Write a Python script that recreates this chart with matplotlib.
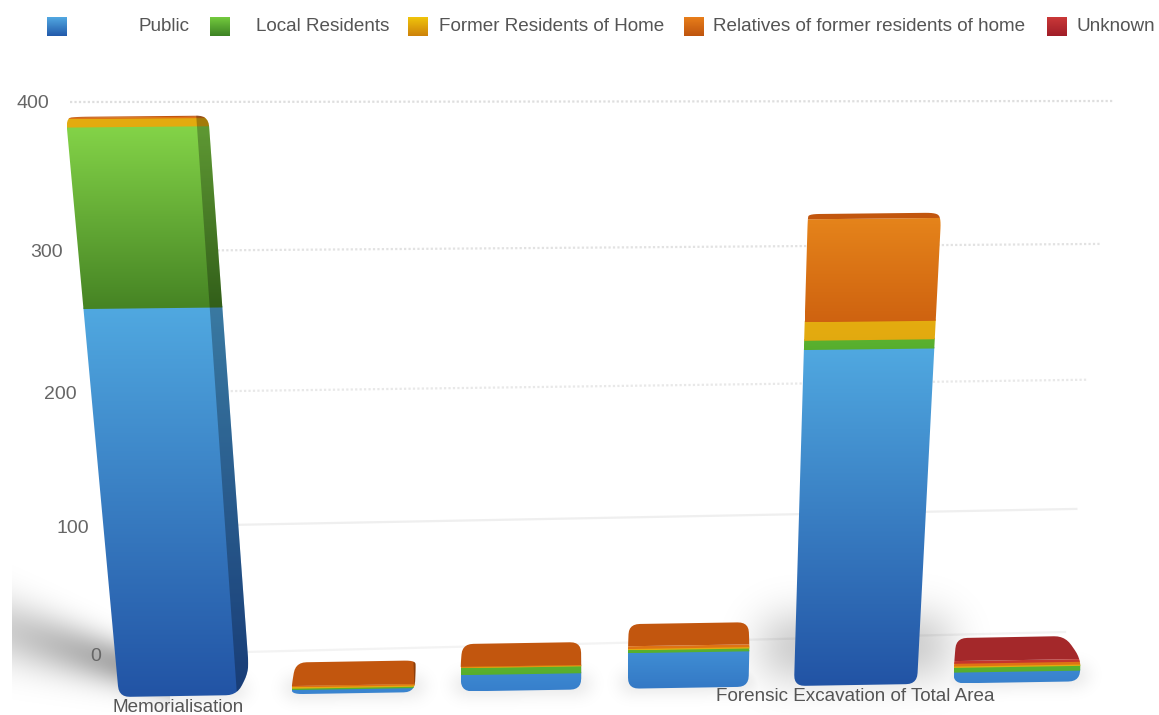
import numpy as np
import matplotlib
matplotlib.use('Agg')
import matplotlib.pyplot as plt
from matplotlib.patches import Polygon
from matplotlib.path import Path

plt.rcParams['font.family'] = ['Liberation Sans', 'DejaVu Sans']

categories = ['Memorialisation', '', '', '', 'Forensic Excavation of Total Area', '']
series_names = ['Public', 'Local Residents', 'Former Residents of Home',
                'Relatives of former residents of home', 'Unknown']
public = [259, 3, 12, 26, 227, 8]
local_residents = [123, 1, 5, 2, 6, 3.5]
former_residents = [6, 1, 0.5, 1, 12, 1]
relatives = [1, 1, 0.5, 2, 68, 2]
unknown = [0, 0, 0, 0, 0, 2]
y_ticks = [0, 100, 200, 300, 400]

W, H = 1159, 715

# light, middle and dark shade of each series, plus the shade of its top face
shades = [
    ((80, 168, 224), (58, 133, 208), (34, 84, 165), (50, 110, 180)),
    ((132, 212, 72), (88, 176, 46), (70, 132, 36), (70, 140, 40)),
    ((230, 178, 16), (228, 172, 16), (215, 150, 12), (200, 130, 10)),
    ((232, 140, 30), (224, 116, 20), (198, 90, 14), (194, 86, 14)),
    ((204, 58, 50), (198, 54, 46), (170, 36, 40), (164, 40, 42)),
]
legend_shades = [
    ((82, 168, 226), (34, 90, 170)),
    ((116, 202, 62), (60, 130, 36)),
    ((240, 196, 10), (205, 130, 10)),
    ((232, 126, 26), (190, 84, 14)),
    ((202, 56, 56), (160, 30, 40)),
]
legend_swatch_x = [47, 210, 408, 684, 1047]
legend_text_x = [138, 256, 439, 713, 1076]

# bar layout: slot centres, half widths, sideways shift of each back edge in pixels
slots = [0, 1.025, 2.01, 2.995, 3.985, 4.94]
half_widths = [0.344, 0.359, 0.353, 0.356, 0.365, 0.376]
back_left = [12, 4, 2, 1, 1, 2]
back_right = [12, 1, 0, -1, -5, -16]


def homography(src, dst):
    rows, rhs = [], []
    for (u, v), (x, y) in zip(src, dst):
        rows.append([u, v, 1, 0, 0, 0, -u * x, -v * x])
        rows.append([0, 0, 0, u, v, 1, -u * y, -v * y])
        rhs += [x, y]
    h = np.linalg.solve(np.array(rows, float), np.array(rhs, float))
    return np.append(h, 1).reshape(3, 3)


def apply_h(m, u, v):
    x, y, w = m @ np.array([u, v, 1.0])
    return np.array([x / w, y / w])


# the plane holding the bar fronts and the plane holding the gridlines
FRONT = homography(
    [(-0.344, 0), (-0.344, 389), (4.35, 0), (4.35, 321.5)],
    [(119, 697), (66, 118), (917, 684), (941, 218)])
GRID = homography(
    [(0, 0), (0, 400), (1, 0), (1, 400)],
    [(122, 655), (70, 102), (1065, 632), (1114, 101)])


def front(u, v):
    # the front plane is stretched a little through the middle of the value range
    return apply_h(FRONT, u, v + 1.147e-6 * v ** 2 * (389 - v))


def grid(t, v):
    return apply_h(GRID, t, v)


def back(u, v, shift):
    depth = 24 * max(1 - v / 400, 0.05)
    return front(u, v) + np.array([shift, -depth])


def hull(points):
    pts = sorted(map(tuple, points))

    def half(seq):
        out = []
        for p in seq:
            while len(out) > 1:
                a, b = np.array(out[-2]), np.array(out[-1])
                d1, d2 = b - a, np.array(p) - b
                if d1[0] * d2[1] - d1[1] * d2[0] <= 0:
                    out.pop()
                else:
                    break
            out.append(p)
        return out[:-1]
    return np.array(half(pts) + half(pts[::-1]))


def rounded(poly, radius):
    out = []
    n = len(poly)
    for k in range(n):
        prev, cur, nxt = poly[k - 1], poly[k], poly[(k + 1) % n]
        to_prev, to_next = prev - cur, nxt - cur
        len_prev, len_next = np.hypot(*to_prev), np.hypot(*to_next)
        a = cur + to_prev / len_prev * min(radius, 0.45 * len_prev)
        b = cur + to_next / len_next * min(radius, 0.45 * len_next)
        for t in np.linspace(0, 1, 7):
            out.append((1 - t) ** 2 * a + 2 * t * (1 - t) * cur + t ** 2 * b)
    return np.array(out)


def clip(poly, p, q, keep):
    """Cut a polygon along the line p-q, keeping the side that holds keep."""
    d = q - p

    def side(a):
        return d[0] * (a[1] - p[1]) - d[1] * (a[0] - p[0])
    sign = np.sign(side(keep))
    out = []
    for k in range(len(poly)):
        a, b = poly[k - 1], poly[k]
        sa, sb = side(a) * sign, side(b) * sign
        if sa >= 0:
            out.append(a)
        if sa * sb < 0:
            out.append(a + (b - a) * sa / (sa - sb))
    return np.array(out)


def fill_gradient(ax, poly, top, bottom, zorder):
    if len(poly) < 3:
        return
    ramp = np.linspace(0, 1, 64)[:, None, None]
    rgb = (np.array(top) * (1 - ramp) + np.array(bottom) * ramp) / 255
    x0, y0 = poly.min(axis=0)
    x1, y1 = poly.max(axis=0)
    im = ax.imshow(rgb, extent=(x0, x1, y1, y0), aspect='auto',
                   interpolation='bilinear', zorder=zorder)
    im.set_clip_path(Polygon(poly, transform=ax.transData))


def blurred(mask, sigma):
    radius = int(3 * sigma)
    kernel = np.exp(-0.5 * (np.arange(-radius, radius + 1) / sigma) ** 2)
    kernel /= kernel.sum()
    mask = np.apply_along_axis(np.convolve, 0, mask, kernel, 'same')
    return np.apply_along_axis(np.convolve, 1, mask, kernel, 'same')


def draw_shadows(ax, shapes):
    xx, yy = np.meshgrid(np.arange(W) + 0.5, np.arange(H) + 0.5)
    pts = np.column_stack([xx.ravel(), yy.ravel()])
    alpha = np.zeros((H, W))
    for poly, sigma, strength in shapes:
        inside = Path(poly).contains_points(pts).reshape(H, W).astype(float)
        alpha = np.maximum(alpha, blurred(inside, sigma) * strength)
    # long wedge of shadow thrown to the left of the tallest bar
    centre = 632 + (xx - 12) * 0.3
    spread = 34 - (xx - 12) * 0.1
    wedge = (0.2 + 0.14 * (xx - 12) / 100) * np.exp(-((yy - centre) / spread) ** 2)
    wedge[xx > 170] = 0
    alpha = np.maximum(alpha, wedge)
    alpha[:, :12] = 0
    rgba = np.zeros((H, W, 4))
    rgba[..., 3] = alpha
    ax.imshow(rgba, extent=(0, W, H, 0), aspect='auto', zorder=2)


def draw_bar(ax, i, values):
    stack = [(n, val) for n, val in enumerate(values) if val > 0]
    total = sum(val for _, val in stack)
    mid_u = slots[i]
    left, right = mid_u - half_widths[i], mid_u + half_widths[i]
    corners = [front(left, 0), front(right, 0), front(left, total), front(right, total),
               back(left, 0, back_left[i]), back(right, 0, back_right[i]),
               back(left, total, back_left[i]), back(right, total, back_right[i])]
    outline = rounded(hull(corners), 11)

    bottom = 0
    for pos, (n, val) in enumerate(stack):
        light, mid, dark, _ = shades[n]
        top = bottom + val
        poly = outline
        if pos > 0:
            poly = clip(poly, front(left, bottom), front(right, bottom), front(mid_u, top))
        # run each segment a little under the next one so no seam shows
        upper = top + 1
        if pos == len(stack) - 1:
            upper = top
        poly = clip(poly, front(left, upper), front(right, upper), front(mid_u, bottom))
        span = min(1, val * 1.47 / 150)
        shade_top = np.array(mid) + (np.array(light) - mid) * span
        shade_bottom = np.array(mid) + (np.array(dark) - mid) * span
        fill_gradient(ax, poly, shade_top, shade_bottom, 4 + pos * 0.01)
        bottom = top

    top_face = clip(outline, front(left, total), front(right, total), front(mid_u, total) - [0, 50])
    colour = np.array(shades[stack[-1][0]][3]) / 255
    ax.add_patch(Polygon(top_face, closed=True, fc=colour, ec='none', zorder=4.5))

    side = clip(outline, front(right, 0), front(right, total), front(right, 0) + [50, 0])
    if len(side) > 2:
        ax.add_patch(Polygon(side, closed=True, fc='black', alpha=0.28, ec='none', zorder=4.6))


fig = plt.figure(figsize=(W / 100, H / 100), dpi=100)
ax = fig.add_axes([0, 0, 1, 1])

# gridlines get fainter toward the bottom of the plot
dotted = (0, (1, 1))
for val, style, colour in zip(y_ticks,
                              ['-', '-', dotted, dotted, dotted],
                              ['#f3f3f3', '#efefef', '#e8e8e8', '#e2e2e2', '#dedede']):
    a, b = grid(0, val), grid(1, val)
    ax.plot([a[0], b[0]], [a[1], b[1]], ls=style, color=colour, lw=1.6, zorder=1)
    ax.text(a[0] - 21, a[1] + 6, str(val), ha='right', va='baseline', fontsize=14, color='#666666')

stacks = list(zip(public, local_residents, former_residents, relatives, unknown))

shadows = []
for i in range(len(stacks)):
    a, b = front(slots[i] - half_widths[i], 0), front(slots[i] + half_widths[i], 0)
    shadows.append((np.array([a + [-6, -14], b + [8, -14], b + [8, 2], a + [-6, 2]]), 9, 0.13))
a, b = front(slots[4] - half_widths[4], 0), front(slots[4] + half_widths[4], 0)
shadows.append((np.array([a + [-30, -65], b + [30, -65], b + [30, -12], a + [-30, -12]]), 22, 0.26))
draw_shadows(ax, shadows)

for i, values in enumerate(stacks):
    draw_bar(ax, i, values)
    if categories[i]:
        base = front(slots[i], 0)
        ax.text(base[0], base[1] + 16, categories[i], ha='center', va='baseline',
                fontsize=13.6, color='#555555', zorder=6)

for n, name in enumerate(series_names):
    x = legend_swatch_x[n]
    fill_gradient(ax, np.array([[x, 17], [x + 20, 17], [x + 20, 36], [x, 36]], float),
                  legend_shades[n][0], legend_shades[n][1], 5)
    ax.text(legend_text_x[n], 31, name, ha='left', va='baseline', fontsize=13.6, color='#555555')

ax.set_xlim(0, W)
ax.set_ylim(H, 0)
ax.axis('off')
fig.savefig('out.png', dpi=100)
